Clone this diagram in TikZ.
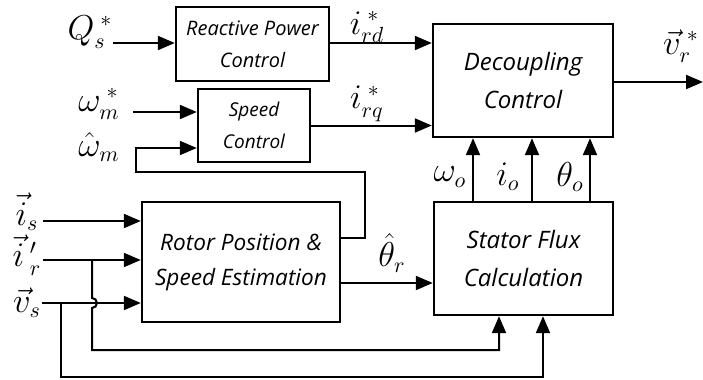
\documentclass[tikz,border=0pt]{standalone}
\usepackage{fontspec}
\setsansfont{Open Sans}
\usetikzlibrary{arrows.meta}
\tikzset{
  blk/.style={draw, line width=1.2pt, align=center, font=\sffamily\itshape\fontsize{12}{19}\selectfont},
  smallblk/.style={blk, font=\sffamily\itshape\fontsize{10}{16}\selectfont},
  sig/.style={line width=1pt, -{Triangle[length=8.5pt,width=7pt]}},
  lbl/.style={font=\fontsize{16}{16}\selectfont, inner sep=0pt}
}
\begin{document}
\begin{tikzpicture}[x=0.5pt, y=-0.5pt]
    \useasboundingbox (0,0) rectangle (703,380);
    % Blocks
    \node[smallblk, minimum width=76.5pt, minimum height=37pt] (rpc) at (252.5,44) {Reactive Power\\Control};
    \node[smallblk, font=\sffamily\itshape\fontsize{9.5}{16}\selectfont, minimum width=56pt, minimum height=36.5pt] (spd) at (254,125.5) {Speed\\Control};
    \node[blk, minimum width=90pt, minimum height=56.5pt] (dec) at (523,80.5) {Decoupling\\Control};
    \node[blk, font=\sffamily\itshape\fontsize{11.3}{17.5}\selectfont, minimum width=99pt, minimum height=60pt] (rot) at (241,262) {Rotor Position \&\\Speed Estimation};
    \node[blk, minimum width=89.5pt, minimum height=56.5pt] (sfc) at (523.5,258.5) {Stator Flux\\Calculation};

    % Inputs
    \coordinate (qin) at (113,43);
    \coordinate (wref) at (133,112);
    \coordinate (isin) at (43,221);
    \coordinate (irin) at (43,260);
    \coordinate (vsin) at (42,303);
    \coordinate (vout) at (703,82);

    \draw[sig] (qin) -- (rpc.west |- qin);
    \draw[sig] (wref) -- (spd.west |- wref);
    \draw[sig] (rpc.east |- qin) -- (dec.west |- qin);
    \draw[sig] (spd.east) -- (dec.west |- spd.east);
    \draw[sig] (dec.east |- vout) -- (vout);
    \foreach \x in {473,532,590}
        \draw[sig] (sfc.north -| \x,0) -- (dec.south -| \x,0);

    % Estimator
    \draw[sig] (isin) -- (rot.west |- isin);
    \draw[sig] (irin) -- (rot.west |- irin);
    \draw[sig] (vsin) -- (rot.west |- vsin);
    \draw[sig] (rot.east |- 0,283) -- (sfc.west |- 0,283);
    \draw[sig] (rot.east |- 0,238) -- (365,238) -- (365,172) -- (136,172) -- (136,148) -- (spd.west |- 0,148);

    % Feedthrough to flux block
    \draw[sig] (92,260) -- (92,298) arc[start angle=90, end angle=-90, radius=2.5pt] -- (92,350) -- (499,350) -- (sfc.south -| 499,0);
    \draw[sig] (61,303) -- (61,377) -- (543,377) -- (sfc.south -| 543,0);

    % Labels
    \node[lbl] (lq) at (90,32) {$Q_s^{\;*}$};
    \node[lbl] (lw) at (99,104) {$\omega_m^{\;*}$};
    \node[lbl] (lwh) at (99,147) {$\hat{\omega}_m$};
    \node[lbl] (lis) at (27,212) {$\vec{i}_s$};
    \node[lbl] (lir) at (27,255) {$\vec{i}\,'_r$};
    \node[lbl] (lvs) at (27,303) {$\vec{v}_s$};
    \node[lbl] (lird) at (367,27) {$i_{rd}^{\;*}$};
    \node[lbl] (lirq) at (367,104) {$i_{rq}^{\;*}$};
    \node[lbl] (lvr) at (681,46) {$\vec{v}_r^{\;*}$};
    \node[lbl] (lwo) at (450,177) {$\omega_o$};
    \node[lbl] (lio) at (508,177) {$i_o$};
    \node[lbl] (lto) at (570,177) {$\theta_o$};
    \node[lbl] (ltr) at (392,253) {$\hat{\theta}_r$};
\end{tikzpicture}
\end{document}
